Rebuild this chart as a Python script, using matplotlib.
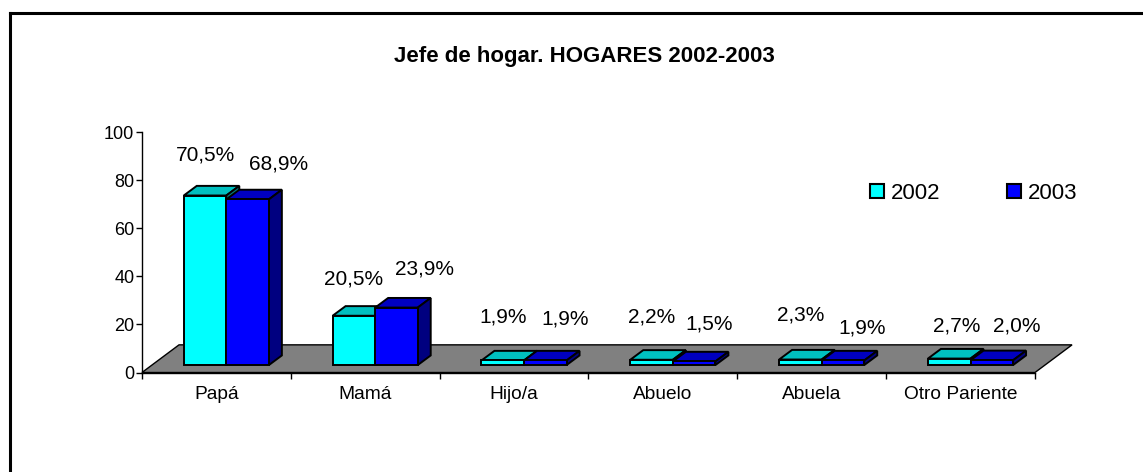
import matplotlib.pyplot as plt
import numpy as np
from matplotlib.patches import Polygon, Rectangle
from matplotlib.lines import Line2D
from matplotlib import font_manager

# data
categories = ['Papá', 'Mamá', 'Hijo/a', 'Abuelo', 'Abuela', 'Otro Pariente']
years      = ['2002', '2003']
vals_2002  = [70.5, 20.5, 1.9, 2.2, 2.3, 2.7]
vals_2003  = [68.9, 23.9, 1.9, 1.5, 1.9, 2.0]

# label placement (Excel puts them a bit irregularly)
lbl_up_2002 = [20.1, 18.5, 21.0, 20.8, 21.6, 16.6]
lbl_up_2003 = [17.6, 19.1, 20.3, 18.7, 16.8, 17.3]
lbl_dx_2002 = [0.0, 0.0, 0.0, 0.0, 0.0, 0.05]
lbl_dx_2003 = [0.21, 0.19, 0.13, 0.10, 0.13, 0.17]

installed = {f.name for f in font_manager.fontManager.ttflist}
BODY  = 'Liberation Sans' if 'Liberation Sans' in installed else 'DejaVu Sans'
TITLE = 'Liberation Sans Narrow' if 'Liberation Sans Narrow' in installed else BODY
plt.rcParams['font.family'] = [BODY, 'DejaVu Sans']

# fake 3D geometry (in data units)
BAR_W     = 0.286
SHIFT_X   = 0.067   # bars sit a bit into the floor
SHIFT_Y   = 3.1
DEPTH_X   = 0.087   # bar depth
DEPTH_Y   = 4.0
FLOOR_DX  = 0.249
FLOOR_DY  = 11.5

front = {'2002': '#00FFFF', '2003': '#0000FF'}
top   = {'2002': '#00C0C0', '2003': '#0000C0'}
side  = {'2002': '#008080', '2003': '#000080'}
EDGE_LW = 1.4

fig = plt.figure(figsize=(11.43, 4.72), dpi=100)
ax = fig.add_axes([0.1242, 0.2108, 0.7813, 0.5095])
ax.set_xlim(-0.5, 5.5)
ax.set_ylim(0, 100)

x = np.arange(len(categories))

# grey floor
floor = Polygon([(-0.5, 0), (5.5, 0), (5.5 + FLOOR_DX, FLOOR_DY), (-0.5 + FLOOR_DX, FLOOR_DY)],
                closed=True, facecolor='#808080', edgecolor='black', lw=1.0, clip_on=False, zorder=1)
ax.add_patch(floor)

for k, (yr, vals) in enumerate([('2002', vals_2002), ('2003', vals_2003)]):
    left = x + SHIFT_X - BAR_W + k * BAR_W
    bars = ax.bar(left, vals, width=BAR_W, bottom=SHIFT_Y, align='edge',
                  color=front[yr], edgecolor='black', lw=EDGE_LW, zorder=3 + 2 * k, label=yr)
    for b in bars:
        x0, w = b.get_x(), b.get_width()
        y0, h = b.get_y(), b.get_height()
        t = y0 + h
        ax.add_patch(Polygon([(x0, t), (x0 + w, t), (x0 + w + DEPTH_X, t + DEPTH_Y), (x0 + DEPTH_X, t + DEPTH_Y)],
                             closed=True, facecolor=top[yr], edgecolor='black', lw=EDGE_LW,
                             zorder=2 + 2 * k, joinstyle='miter'))
        ax.add_patch(Polygon([(x0 + w, y0), (x0 + w + DEPTH_X, y0 + DEPTH_Y), (x0 + w + DEPTH_X, t + DEPTH_Y), (x0 + w, t)],
                             closed=True, facecolor=side[yr], edgecolor='black', lw=EDGE_LW,
                             zorder=2 + 2 * k, joinstyle='miter'))

# value labels
for i in range(len(categories)):
    c02 = x[i] + SHIFT_X - BAR_W / 2
    c03 = x[i] + SHIFT_X + BAR_W / 2
    ax.text(c02 + lbl_dx_2002[i], vals_2002[i] + lbl_up_2002[i],
            f'{vals_2002[i]:.1f}'.replace('.', ',') + '%', ha='center', va='center', fontsize=15)
    ax.text(c03 + lbl_dx_2003[i], vals_2003[i] + lbl_up_2003[i],
            f'{vals_2003[i]:.1f}'.replace('.', ',') + '%', ha='center', va='center', fontsize=15)

# axes styling
for s in ['top', 'right']:
    ax.spines[s].set_visible(False)
ax.spines['left'].set_linewidth(1.0)
ax.spines['bottom'].set_linewidth(1.0)
ax.set_yticks([0, 20, 40, 60, 80, 100])
ax.tick_params(axis='y', length=4, width=1.0, pad=1.5, labelsize=13)
ax.set_xticks(x)
ax.set_xticklabels(categories)
ax.tick_params(axis='x', which='major', length=0, pad=10, labelsize=13.8)
ax.set_xticks(np.arange(-0.5, 6, 1), minor=True)
ax.tick_params(axis='x', which='minor', length=4, width=1.0)

# legend
handles = [Rectangle((0, 0), 1, 1, facecolor=front[y], edgecolor='black', lw=1.5) for y in years]
ax.legend(handles, years, loc='center left', bbox_to_anchor=(0.815, 0.745), ncol=2, frameon=False,
          fontsize=16, handlelength=0.65, handleheight=0.65, handletextpad=0.3, columnspacing=3.0,
          borderaxespad=0, borderpad=0)

fig.text(0.511, 0.881, 'Jefe de hogar. HOGARES 2002-2003', ha='center', va='center',
         fontsize=16, fontweight='bold', family=[TITLE, BODY])

# outer frame (only top and left edges fall inside the picture)
fig.add_artist(Line2D([10 / 1143, 1.0], [1 - 13 / 472, 1 - 13 / 472], color='black', lw=2.2, transform=fig.transFigure))
fig.add_artist(Line2D([10 / 1143, 10 / 1143], [0.0, 1 - 13 / 472], color='black', lw=2.2, transform=fig.transFigure))

fig.savefig('out.png', dpi=100)
